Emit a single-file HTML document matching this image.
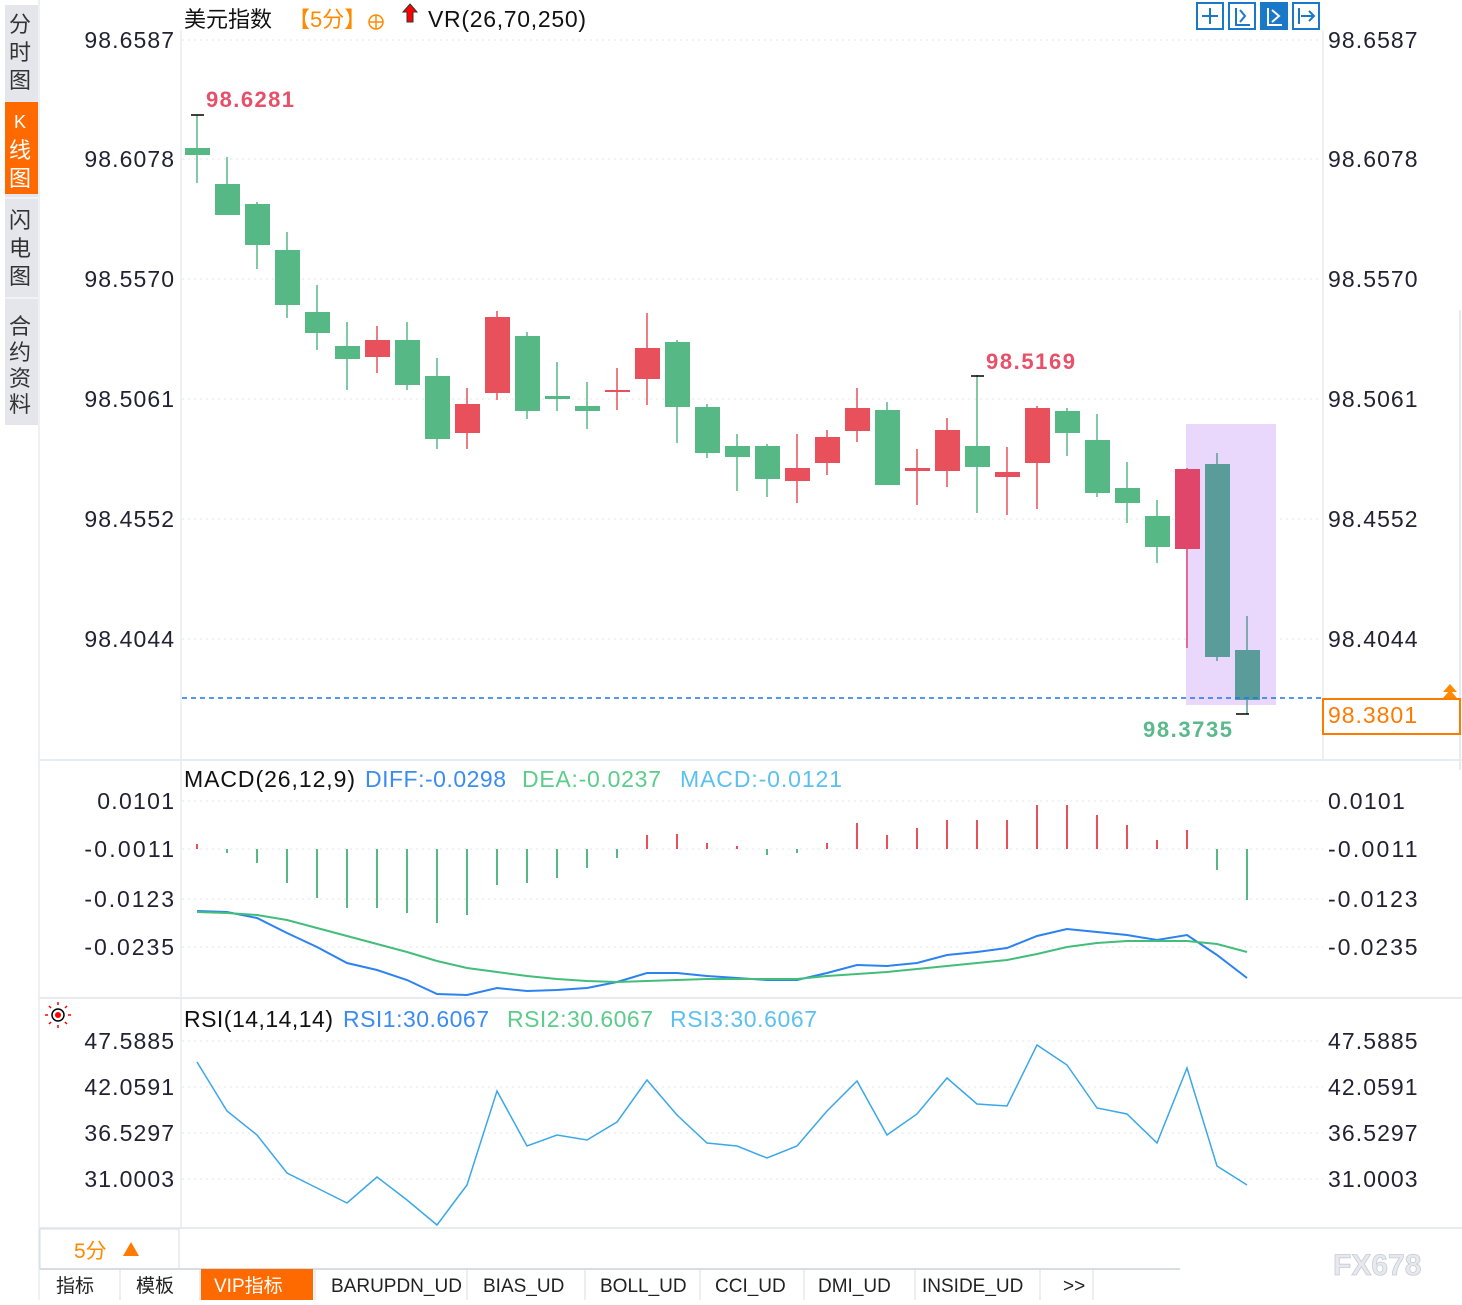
<!DOCTYPE html>
<html><head><meta charset="utf-8"><style>
body{margin:0;background:#fff;width:1462px;height:1300px;overflow:hidden;font-family:"Liberation Sans","Noto Sans CJK SC",sans-serif;}
svg text{font-family:"Liberation Sans","Noto Sans CJK SC",sans-serif;}
</style></head><body>
<svg id="s" width="1462" height="1300" xmlns="http://www.w3.org/2000/svg">
<rect x="5" y="5" width="33" height="420" fill="#e4e6ec"/>
<rect x="5" y="102" width="33" height="92" fill="#ff6a00"/>
<g font-size="22" fill="#333" text-anchor="middle">
<text x="20" y="32">分</text><text x="20" y="60">时</text><text x="20" y="88">图</text>
<text x="20" y="128" fill="#fff" font-size="18">K</text><text x="20" y="158" fill="#fff">线</text><text x="20" y="186" fill="#fff">图</text>
<text x="20" y="228">闪</text><text x="20" y="256">电</text><text x="20" y="284">图</text>
<text x="20" y="334">合</text><text x="20" y="360">约</text><text x="20" y="386">资</text><text x="20" y="412">料</text>
</g>
<line x1="5" y1="198" x2="38" y2="198" stroke="#fff"/><line x1="5" y1="298" x2="38" y2="298" stroke="#fff"/>
<line x1="39" y1="0" x2="39" y2="1300" stroke="#dde3ea"/>
<line x1="181" y1="30" x2="181" y2="1228" stroke="#dde3ea"/>
<line x1="1323" y1="30" x2="1323" y2="760" stroke="#dde3ea"/>
<line x1="39" y1="760" x2="1462" y2="760" stroke="#e6ebf0" stroke-width="2"/>
<line x1="39" y1="998" x2="1462" y2="998" stroke="#e6ebf0" stroke-width="2"/>
<line x1="39" y1="1228" x2="1462" y2="1228" stroke="#e6ebf0" stroke-width="2"/>
<line x1="1460" y1="310" x2="1460" y2="770" stroke="#e6ebf0" stroke-width="2"/>
<g id="grid" stroke="#e2e6ea" stroke-dasharray="2,4"></g>
<text x="184" y="27" font-size="22" fill="#111">美元指数</text>
<text x="288" y="27" font-size="22" fill="#ff8a00">【5分】</text>
<circle cx="376" cy="22" r="7" fill="none" stroke="#ff8a00" stroke-width="1.5"/><line x1="369" y1="22" x2="383" y2="22" stroke="#ff8a00" stroke-width="1.5"/><line x1="376" y1="15" x2="376" y2="29" stroke="#ff8a00" stroke-width="1.5"/>
<path d="M410 4 L417 12 L413 12 L413 22 L407 22 L407 12 L403 12Z" fill="#f00" stroke="#333" stroke-width="1"/>
<text x="428" y="27" font-size="23" fill="#111" textLength="158">VR(26,70,250)</text>
<g fill="none" stroke="#1a78c8" stroke-width="2">
<rect x="1197" y="3" width="26" height="26"/><rect x="1229" y="3" width="26" height="26"/><rect x="1261" y="3" width="26" height="26" fill="#1a78c8"/><rect x="1293" y="3" width="26" height="26"/>
<path d="M1210 8v16M1202 16h16"/><path d="M1236 8v17h14M1240 10l5 6-5 6"/><path d="M1268 8v17h14M1272 10l7 6-7 6" stroke="#fff"/><path d="M1299 8v16M1301 16h12M1309 11l5 5-5 5"/>
</g>
<g id="lab" font-size="23" fill="#223"></g>
<rect x="1186" y="424" width="90" height="281" fill="#ead7fc"/>
<g id="cand"></g>
<line x1="182" y1="698" x2="1323" y2="698" stroke="#1a78e8" stroke-width="1.5" stroke-dasharray="5,4"/>
<rect x="1323" y="699" width="137" height="35" fill="#fff" stroke="#ff7a00" stroke-width="2"/>
<text x="1328" y="723" font-size="23" fill="#ff7a00" textLength="89">98.3801</text>
<path d="M1443 692l7-8 7 8zM1443 698l7-8 7 8z" fill="#ff8a00"/>
<text x="206" y="107" font-size="22" fill="#e8506a" font-weight="bold" textLength="88">98.6281</text>
<text x="986" y="369" font-size="22" fill="#e8506a" font-weight="bold" textLength="89">98.5169</text>
<text x="1143" y="737" font-size="22" fill="#5bb98c" font-weight="bold" textLength="89">98.3735</text>
<g stroke="#000" stroke-width="1.5"><path d="M191 115h13M971 376h13M1236 714h13"/></g>
<text x="184" y="787" font-size="23" fill="#111" textLength="171">MACD(26,12,9)</text>
<text x="365" y="787" font-size="23" fill="#3b8cf0" textLength="141">DIFF:-0.0298</text>
<text x="522" y="787" font-size="23" fill="#5ccc8a" textLength="139">DEA:-0.0237</text>
<text x="680" y="787" font-size="23" fill="#5bc0f0" textLength="162">MACD:-0.0121</text>
<g id="macd"></g>
<polyline id="diff" fill="none" stroke="#2b82f0" stroke-width="2"/>
<polyline id="dea" fill="none" stroke="#43bd7a" stroke-width="2"/>
<circle cx="58" cy="1015" r="6" fill="none" stroke="#000" stroke-width="1.5"/><circle cx="58" cy="1015" r="3" fill="#f00"/>
<g stroke="#f00" stroke-width="1.5"><path d="M58 1002v3M58 1025v3M45 1015h3M68 1015h3M49 1006l2 2M67 1006l-2 2M49 1024l2-2M67 1024l-2-2"/></g>
<text x="184" y="1027" font-size="23" fill="#111" textLength="149">RSI(14,14,14)</text>
<text x="343" y="1027" font-size="23" fill="#3b8cf0" textLength="146">RSI1:30.6067</text>
<text x="507" y="1027" font-size="23" fill="#5ccc8a" textLength="146">RSI2:30.6067</text>
<text x="670" y="1027" font-size="23" fill="#5bc0f0" textLength="147">RSI3:30.6067</text>
<polyline id="rsi" fill="none" stroke="#3aa8e8" stroke-width="1.5"/>
<rect x="40" y="1229" width="139" height="40" fill="#fff" stroke="#d8dde4"/>
<text x="74" y="1258" font-size="21" fill="#ff8a00">5分</text><path d="M123 1256l8-14 8 14z" fill="#ff7a00"/>
<rect x="40" y="1268" width="1140" height="32" fill="#fff"/>
<line x1="40" y1="1269" x2="1180" y2="1269" stroke="#d8dde4" stroke-width="2"/>
<rect x="201" y="1269" width="112" height="31" fill="#ff6a00"/>
<g font-size="19" fill="#222" font-family="Liberation Mono">
<text x="56" y="1292">指标</text><text x="136" y="1292">模板</text><text x="214" y="1292" fill="#fff">VIP指标</text>
<text x="331" y="1292">BARUPDN_UD</text><text x="483" y="1292">BIAS_UD</text><text x="600" y="1292">BOLL_UD</text>
<text x="715" y="1292">CCI_UD</text><text x="818" y="1292">DMI_UD</text><text x="922" y="1292">INSIDE_UD</text><text x="1063" y="1292">&gt;&gt;</text>
</g>
<g stroke="#d8dde4"><path d="M120 1269v31M200 1269v31M315 1269v31M467 1269v31M585 1269v31M700 1269v31M804 1269v31M915 1269v31M1040 1269v31M1093 1269v31"/></g>
<text x="1333" y="1275" font-size="30" fill="#e6e9ee" font-weight="bold" stroke="#c8ccd4" stroke-width="0.8">FX678</text>
</svg>
<script>
var NS="http://www.w3.org/2000/svg";
function el(p,t,a){var e=document.createElementNS(NS,t);for(var k in a)e.setAttribute(k,a[k]);document.getElementById(p).appendChild(e);return e;}
var grid=[40,159,279,399,519,639,801,849,899,947,1041,1087,1133,1179];
grid.forEach(function(y){el("grid","line",{x1:182,y1:y,x2:1323,y2:y});});
var labs=[["98.6587",40],["98.6078",159],["98.5570",279],["98.5061",399],["98.4552",519],["98.4044",639],["0.0101",801],["-0.0011",849],["-0.0123",899],["-0.0235",947],["47.5885",1041],["42.0591",1087],["36.5297",1133],["31.0003",1179]];
labs.forEach(function(l){var w=l[0].length*12.8;var t=el("lab","text",{x:174-w,y:l[1]+8,textLength:w});t.textContent=l[0];var t2=el("lab","text",{x:1328,y:l[1]+8,textLength:w});t2.textContent=l[0];});
var C=[["g",148,155,115,183],["g",184,215,157,215],["g",204,245,202,269],["g",250,305,232,318],["g",312,333,285,350],["g",346,359,322,390],["r",340,357,326,373],["g",340,385,322,390],["g",376,439,358,449],["r",404,433,388,449],["r",317,393,311,400],["g",336,411,332,419],["g",396,399,362,411],["g",406,411,382,429],["r",390,392,368,410],["r",348,379,313,405],["g",342,407,340,443],["g",407,453,404,458],["g",446,457,434,491],["g",446,479,444,497],["r",468,481,434,503],["r",437,463,430,475],["r",408,431,388,442],["g",410,485,402,485],["r",468,471,449,505],["r",430,471,418,487],["g",446,467,375,513],["r",472,477,447,515],["r",408,463,406,509],["g",411,433,408,456],["g",440,493,414,497],["g",488,503,462,523],["g",516,547,500,563],["r",469,549,468,648],["t",464,657,453,661],["t",650,700,616,714]];
var col={g:"#55b885",r:"#e8505b",t:"#5a9c9a"};
C.forEach(function(c,i){var x=197+30*i;var f=col[c[0]];if(i==33)f="#e0466a";
el("cand","line",{x1:x,y1:c[3],x2:x,y2:c[4],stroke:f,"stroke-width":1.5});
el("cand","rect",{x:x-12,y:c[1],width:25,height:Math.max(2,c[2]-c[1]),fill:f});});
var M=[-5,4,14,34,49,59,59,64,74,66,36,34,29,19,9,-14,-15,-6,-3,6,4,-6,-26,-14,-21,-29,-29,-29,-44,-44,-34,-24,-9,-19,21,51];
M.forEach(function(v,i){var x=197+30*i;el("macd","line",{x1:x,y1:849,x2:x,y2:849+v,stroke:v<0?"#e8505b":"#55b885","stroke-width":2});});
function pts(a){return a.map(function(y,i){return (197+30*i)+","+y;}).join(" ");}
document.getElementById("diff").setAttribute("points",pts([911,912,918,933,947,963,970,980,994,995,988,991,990,988,982,973,973,976,978,980,980,973,965,966,963,955,952,948,936,929,932,935,940,935,955,978]));
document.getElementById("dea").setAttribute("points",pts([912,913,915,920,928,936,944,952,961,968,972,976,979,981,982,981,980,979,979,979,979,976,974,972,969,966,963,960,954,947,943,941,941,941,944,952]));
document.getElementById("rsi").setAttribute("points",pts([1062,1111,1135,1173,1188,1203,1177,1200,1225,1185,1091,1146,1135,1140,1122,1080,1115,1143,1146,1158,1146,1111,1081,1135,1114,1078,1104,1106,1045,1065,1108,1114,1143,1068,1166,1185]));
</script>
</body></html>
